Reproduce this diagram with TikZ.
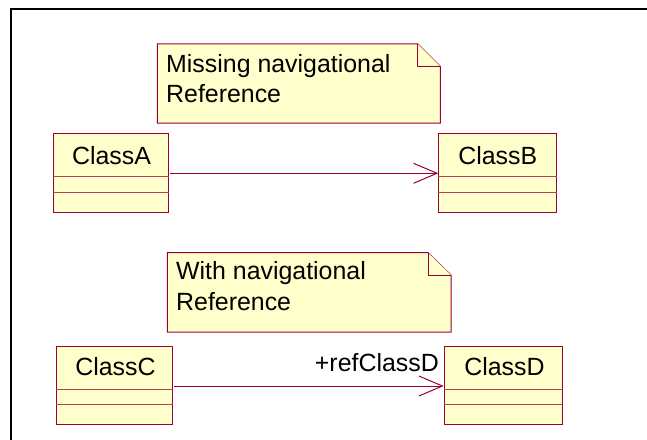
\documentclass[tikz,border=0pt]{standalone}
\usepackage{fontspec}
\setmainfont{Liberation Sans}
\usetikzlibrary{calc,arrows.meta}
\definecolor{umlred}{RGB}{153,0,51}
\definecolor{umlfill}{RGB}{255,255,204}
\tikzset{
  classbox/.style={draw=umlred, fill=umlfill, line width=1bp, anchor=north west, inner sep=0pt},
  sepline/.style={draw=umlred!75!umlfill, line width=1bp},
  notebody/.style={draw=umlred, fill=umlfill, line width=1bp, line join=miter},
  notearea/.style={anchor=north west, inner sep=0pt},
  txt/.style={font=\fontsize{25}{30}\selectfont, inner sep=0pt, text=black},
  assoc/.style={draw=umlred, line width=1bp, -{Straight Barb[length=23.5bp, width=20bp]}},
  frameline/.style={draw=black, line width=2bp}
}
\begin{document}
\begin{tikzpicture}[x=1bp,y=-1bp]
\useasboundingbox[fill=white] (0,0) rectangle (647,440);
% frame (only left and top edges visible)
\coordinate (fbl) at (11,441);
\coordinate (ftl) at (11,9);
\coordinate (ftr) at (648,9);
\draw[frameline] (fbl) -- (ftl) -- (ftr);

% note 1
\node[notearea, minimum width=282.7bp, minimum height=78.7bp] (N1) at (157.3,44) {};
\draw[notebody] (N1.north west) -- ($(N1.north east)+(-22.5,0)$) -- ($(N1.north east)+(0,22.5)$) -- (N1.south east) -- (N1.south west) -- cycle;
\draw[notebody] ($(N1.north east)+(-22.5,0)$) -- ($(N1.north east)+(-22.5,22.5)$) -- ($(N1.north east)+(0,22.5)$);
\node[txt, anchor=base west] (N1a) at ($(N1.north west)+(8.7,28.3)$) {Missing navigational};
\node[txt, anchor=base west] (N1b) at ($(N1.north west)+(8.7,59.0)$) {Reference};

% note 2
\node[notearea, minimum width=283.4bp, minimum height=79bp] (N2) at (167.3,252.7) {};
\draw[notebody] (N2.north west) -- ($(N2.north east)+(-23,0)$) -- ($(N2.north east)+(0,22.5)$) -- (N2.south east) -- (N2.south west) -- cycle;
\draw[notebody] ($(N2.north east)+(-23,0)$) -- ($(N2.north east)+(-23,22.5)$) -- ($(N2.north east)+(0,22.5)$);
\node[txt, anchor=base west] (N2a) at ($(N2.north west)+(8.7,26.8)$) {With navigational};
\node[txt, anchor=base west] (N2b) at ($(N2.north west)+(8.7,58.3)$) {Reference};

% classes
\node[classbox, minimum width=114.4bp, minimum height=79bp] (A) at (53.3,133.3) {};
\node[classbox, minimum width=118bp, minimum height=79bp] (B) at (438.3,133.3) {};
\node[classbox, minimum width=116bp, minimum height=78.6bp] (C) at (56,345.7) {};
\node[classbox, minimum width=118.6bp, minimum height=78.6bp] (D) at (443.7,345.7) {};

\foreach \n in {A,B,C,D}{
  \draw[sepline] ($(\n.north west)+(0,43.4)$) -- ($(\n.north east)+(0,43.4)$);
  \draw[sepline] ($(\n.north west)+(0,58.9)$) -- ($(\n.north east)+(0,58.9)$);
}

\node[txt, anchor=base] (At) at ($(A.north)+(0.5,31.7)$) {ClassA};
\node[txt, anchor=base] (Bt) at ($(B.north)+(0,31.7)$) {ClassB};
\node[txt, anchor=base] (Ct) at ($(C.north)+(1,30)$) {ClassC};
\node[txt, anchor=base] (Dt) at ($(D.north)+(1,30)$) {ClassD};

% associations
\draw[assoc] ($(A.north east)+(1.6,40)$) -- ($(B.north west)+(0,40)$);
\draw[assoc] ($(C.north east)+(1.3,40.3)$) -- ($(D.north west)+(0,40.3)$);
\node[txt, anchor=base east] (role) at ($(D.north west)+(-4.7,26)$) {+refClassD};
\end{tikzpicture}
\end{document}
